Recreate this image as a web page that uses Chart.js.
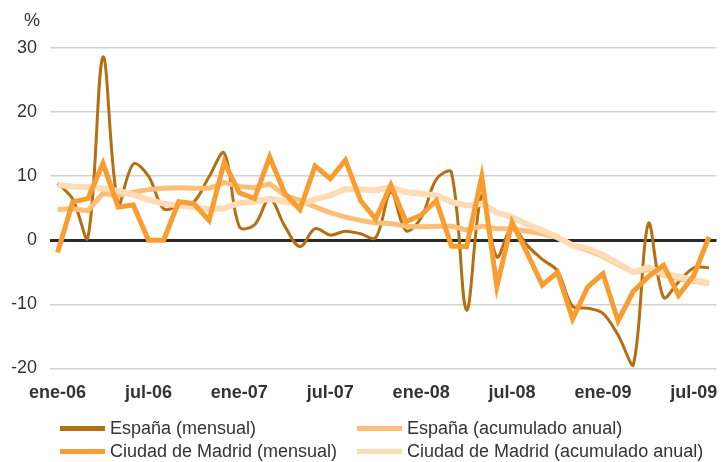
<!DOCTYPE html>
<html>
<head>
<meta charset="utf-8">
<script src="https://cdn.jsdelivr.net/npm/chart.js@4.4.1/dist/chart.umd.min.js"></script>
<style>
  body { margin: 0; background: #fff; }
  #wrap { position: relative; width: 723px; height: 462px; font-family: "Liberation Sans", Arial, sans-serif; }
  #legend { position: absolute; left: 60px; top: 418px; display: grid; grid-template-columns: 297px auto; row-gap: 2px; }
  .item { display: flex; align-items: center; height: 21px; font-size: 18px; color: #333; white-space: nowrap; }
  .swatch { display: inline-block; width: 45px; height: 5px; margin-right: 5px; }
</style>
</head>
<body>
<div id="wrap">
  <canvas id="grafico" width="723" height="462"></canvas>
  <div id="legend"></div>
</div>
<script>
const meses = ['ene-06','feb-06','mar-06','abr-06','may-06','jun-06','jul-06','ago-06','sep-06','oct-06','nov-06','dic-06',
               'ene-07','feb-07','mar-07','abr-07','may-07','jun-07','jul-07','ago-07','sep-07','oct-07','nov-07','dic-07',
               'ene-08','feb-08','mar-08','abr-08','may-08','jun-08','jul-08','ago-08','sep-08','oct-08','nov-08','dic-08',
               'ene-09','feb-09','mar-09','abr-09','may-09','jun-09','jul-09','ago-09'];

const espanaMensual = [8.9, 6.4, 0.4, 28.6, 5.7, 11.9, 10.0, 4.9, 5.4, 6.0, 9.9, 13.6,
                       2.1, 2.4, 6.5, 2.2, -1.0, 1.8, 0.8, 1.4, 1.0, 0.4, 7.5, 1.5,
                       3.5, 9.5, 10.6, -10.9, 7.0, -2.6, 2.0, -0.8, -3.0, -4.8, -10.3, -10.6,
                       -11.4, -14.8, -19.5, 2.6, -8.9, -6.5, -4.3, -4.3];
const espanaAcum = [4.8, 4.9, 4.6, 7.3, 7.0, 7.5, 7.9, 8.1, 8.2, 8.1, 8.1, 9.0,
                    8.4, 8.2, 8.8, 7.0, 6.2, 5.2, 4.3, 3.6, 3.1, 2.7, 2.6, 2.2,
                    2.1, 2.2, 2.2, 1.6, 2.2, 1.8, 1.8, 1.4, 1.0, 0.4, -0.8, -1.6,
                    -2.5, -3.8, -5.0, -4.6, -5.4, -6.0, -6.4, -6.8];
const madridMensual = [-1.9, 6.0, 6.5, 12.0, 5.2, 5.5, 0, 0, 6.0, 5.7, 3.1, 12.2,
                       7.4, 6.5, 13.0, 7.3, 4.8, 11.6, 9.6, 12.5, 6.2, 3.3, 8.6, 2.9,
                       3.9, 6.2, -0.9, -1.0, 9.9, -7.2, 2.8, -2.0, -7.0, -5.0, -12.3, -7.3,
                       -5.2, -12.6, -8.0, -5.7, -3.9, -8.6, -5.5, 0.5];
const madridAcum = [8.6, 8.4, 8.3, 8.1, 7.7, 7.1, 6.3, 5.7, 5.4, 5.2, 4.8, 5.0,
                    5.8, 6.0, 6.5, 6.0, 5.6, 6.4, 7.0, 8.0, 7.9, 7.8, 8.3, 7.5,
                    7.3, 7.0, 6.0, 5.4, 5.7, 4.3, 3.6, 2.5, 1.5, 0.5, -0.8, -1.3,
                    -2.3, -3.6, -5.0, -4.2, -5.2, -5.7, -6.2, -6.7];

const fuente = '"Liberation Sans", Arial, sans-serif';

// "%" above the value axis
const etiquetaPct = {
    id: 'etiquetaPct',
    afterDraw(chart) {
        const c = chart.ctx;
        c.save();
        c.font = '18px ' + fuente;
        c.fillStyle = '#333';
        c.textAlign = 'center';
        c.textBaseline = 'middle';
        c.fillText('%', 32, 21);
        c.restore();
    }
};

const series = [
    { label: 'España (mensual)', data: espanaMensual, borderColor: '#b36f12', borderWidth: 3, tension: 0.35, order: 4 },
    { label: 'España (acumulado anual)', data: espanaAcum, borderColor: '#fdbe78', borderWidth: 5, tension: 0, order: 3 },
    { label: 'Ciudad de Madrid (mensual)', data: madridMensual, borderColor: '#f99d31', borderWidth: 5, tension: 0, borderJoinStyle: 'miter', order: 1 },
    { label: 'Ciudad de Madrid (acumulado anual)', data: madridAcum, borderColor: '#fedcb5', borderWidth: 6, tension: 0, order: 2 }
];

const ctx = document.getElementById('grafico');
new Chart(ctx, {
    type: 'line',
    data: {
        labels: meses,
        datasets: series.map(s => Object.assign({ pointRadius: 0, fill: false, borderJoinStyle: 'round' }, s))
    },
    options: {
        responsive: false,
        animation: false,
        layout: { padding: { left: 0, right: 4, top: 48, bottom: 44 } },
        plugins: { legend: { display: false }, tooltip: { enabled: false } },
        scales: {
            x: {
                offset: true,
                grid: { display: false, drawTicks: false },
                border: { display: false },
                ticks: {
                    autoSkip: false,
                    maxRotation: 0,
                    padding: 14,
                    color: '#333',
                    font: { family: fuente, size: 18, weight: 'bold' },
                    callback: function (v, i) { return i % 6 === 0 ? meses[i] : ''; }
                }
            },
            y: {
                min: -20,
                max: 30,
                afterFit: function (scale) { scale.width = 50; },
                grid: {
                    drawTicks: false,
                    color: c => c.tick && c.tick.value === 0 ? '#2a2a2a' : '#d3d3d3',
                    lineWidth: c => c.tick && c.tick.value === 0 ? 3 : 1.5
                },
                border: { display: false },
                ticks: {
                    stepSize: 10,
                    padding: 13,
                    color: '#333',
                    font: { family: fuente, size: 18 }
                }
            }
        }
    },
    plugins: [etiquetaPct]
});

// legend in two columns, built from the datasets
const leyenda = document.getElementById('legend');
[0, 1, 2, 3].forEach(i => {
    const s = series[i];
    const d = document.createElement('div');
    d.className = 'item';
    d.innerHTML = '<span class="swatch" style="background:' + s.borderColor + '"></span>' + s.label;
    leyenda.appendChild(d);
});
</script>
</body>
</html>
